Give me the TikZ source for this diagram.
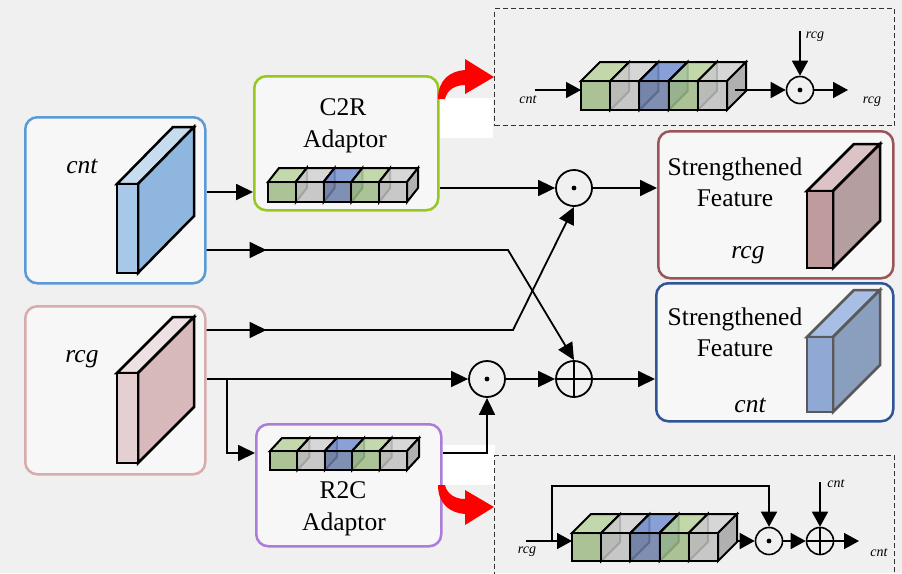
\documentclass[tikz,border=0pt]{standalone}
\usepackage{fontspec}
\setmainfont{Liberation Serif}
\usetikzlibrary{arrows.meta,decorations.markings}

\definecolor{bg}{RGB}{240,240,240}
\definecolor{boxfill}{RGB}{247,247,247}
\definecolor{cntborder}{RGB}{91,155,213}
\definecolor{rcgborder}{RGB}{214,172,172}
\definecolor{c2rborder}{RGB}{150,200,30}
\definecolor{r2cborder}{RGB}{172,124,218}
\definecolor{sfrborder}{RGB}{155,85,90}
\definecolor{sfcborder}{RGB}{47,85,151}
% cube colours
\definecolor{gF}{RGB}{160,186,136}
\definecolor{gT}{RGB}{186,212,160}
\definecolor{gR}{RGB}{136,160,110}
\definecolor{yF}{RGB}{192,192,192}
\definecolor{yT}{RGB}{210,210,210}
\definecolor{yR}{RGB}{165,165,165}
\definecolor{bF}{RGB}{108,126,166}
\definecolor{bT}{RGB}{118,146,210}
\definecolor{bR}{RGB}{72,116,176}
% slab colours
\definecolor{cntF}{RGB}{167,200,232}
\definecolor{cntS}{RGB}{143,182,222}
\definecolor{cntT}{RGB}{200,220,240}
\definecolor{rcgF}{RGB}{228,208,211}
\definecolor{rcgS}{RGB}{215,185,188}
\definecolor{rcgT}{RGB}{238,225,227}
\definecolor{sfrF}{RGB}{192,155,158}
\definecolor{sfrS}{RGB}{180,158,160}
\definecolor{sfrT}{RGB}{220,195,197}
\definecolor{sfcF}{RGB}{143,168,212}
\definecolor{sfcS}{RGB}{138,158,190}
\definecolor{sfcT}{RGB}{168,190,228}

% slab: x, y (front top-left), w, h, dx, dy, front, side, top
\newcommand{\slabdraw}[9]{%
  \filldraw[fill=#9] (#1,#2) -- ++(#3,0) -- ++(#5,-#6) -- ++(-#3,0) -- cycle;
  \filldraw[fill=#8] ({#1+#3},#2) -- ++(#5,-#6) -- ++(0,#4) -- ++(-#5,#6) -- cycle;
  \filldraw[fill=#7] (#1,#2) rectangle ++(#3,#4);
}
% cube row: x0, y0, w, h, dx, dy
\newcommand{\cuberow}[6]{%
  \foreach \cc [count=\i from 0] in {g,y,b,g,y}{
    \filldraw[fill=\cc T, fill opacity=0.85] ({#1+\i*#3},#2) -- ++(#3,0) -- ++(#5,-#6) -- ++(-#3,0) -- cycle;
    \filldraw[fill=\cc R, fill opacity=0.85] ({#1+(\i+1)*#3},#2) -- ++(#5,-#6) -- ++(0,#4) -- ++(-#5,#6) -- cycle;
    \filldraw[fill=\cc F, fill opacity=0.85] ({#1+\i*#3},#2) rectangle ++(#3,#4);
  }%
}

\begin{document}
\begin{tikzpicture}[x=1pt,y=-1pt,
  arr/.style={line width=1.8pt, -{Triangle[length=17pt,width=16pt]}},
  sarr/.style={line width=1.6pt, -{Triangle[length=15pt,width=16pt]}},
  midarrow/.style={postaction={decorate}, decoration={markings,
      mark=at position 60pt with {\arrow{Triangle[length=17pt,width=16pt]}}}},
  rbox/.style={draw, line width=2.5pt, rounded corners=12pt, fill=boxfill, anchor=north west, inner sep=0pt},
  op/.style={circle, draw, line width=1.8pt, minimum size=36pt, inner sep=0pt, fill=bg},
  sop/.style={circle, draw, line width=1.6pt, minimum size=27pt, inner sep=0pt, fill=bg},
  lbl/.style={font=\fontsize{25.5}{30}\selectfont, inner sep=0pt, anchor=base},
  ilbl/.style={font=\fontsize{25.5}{30}\selectfont\itshape, inner sep=0pt, anchor=base},
  slbl/.style={font=\fontsize{14}{16}\selectfont\itshape, inner sep=0pt, anchor=base},
  dbox/.style={draw=black!80, dash pattern=on 5pt off 3pt, line width=1.1pt, anchor=north west, inner sep=0pt},
  rowbox/.style={anchor=north west, inner sep=0pt},
  slabline/.style={line width=2.5pt, line join=miter},
  cubeline/.style={line width=2pt, line join=miter},
]
\useasboundingbox (0,0) rectangle (902,573);
\clip (0,0) rectangle (902,573);
\fill[bg] (0,0) rectangle (902,573);

% white patches
\fill[white] (418,98) rectangle (493,138);
\fill[white] (420,445) rectangle (495,485);

% dashed detail boxes
\node[dbox, minimum width=400pt, minimum height=117pt] (dtop) at (494,8) {};
\node[dbox, minimum width=400pt, minimum height=140pt] (dbot) at (494,455) {};

% main boxes
\node[rbox, draw=cntborder, minimum width=180pt, minimum height=166pt] (cntbox) at (24,116) {};
\node[rbox, draw=rcgborder, minimum width=180pt, minimum height=168pt] (rcgbox) at (24,305) {};
\node[rbox, draw=c2rborder, minimum width=184pt, minimum height=134pt] (c2r) at (253,75) {};
\node[rbox, draw=r2cborder, minimum width=185pt, minimum height=122pt] (r2c) at (255,423) {};
\node[rbox, draw=sfrborder, minimum width=235pt, minimum height=147pt] (sfr) at (657,130) {};
\node[rbox, draw=sfcborder, minimum width=237pt, minimum height=138pt] (sfc) at (655,282) {};

% slabs
\begin{scope}[slabline]
\slabdraw{117}{184}{21}{89}{56}{57}{cntF}{cntS}{cntT}
\slabdraw{117}{373}{21}{90}{56}{56}{rcgF}{rcgS}{rcgT}
\slabdraw{807}{191}{26}{77}{47}{47}{sfrF}{sfrS}{sfrT}
\begin{scope}[draw=black!65]
\slabdraw{807}{337}{26}{75}{47}{47}{sfcF}{sfcS}{sfcT}
\end{scope}
\end{scope}

% cube rows
\begin{scope}[cubeline]
\cuberow{268}{182}{27.8}{20}{11}{14}
\cuberow{270}{451}{27.4}{19}{12}{13}
\cuberow{581}{81}{29.2}{29}{19}{19}
\cuberow{572}{533}{29.2}{28}{19}{19}
\end{scope}
\node[rowbox, minimum width=139pt, minimum height=20pt] (rowa) at (268,182) {};
\node[rowbox, minimum width=137pt, minimum height=19pt] (rowb) at (270,451) {};
\node[rowbox, minimum width=146pt, minimum height=29pt] (row1) at (581,81) {};
\node[rowbox, minimum width=146pt, minimum height=28pt] (row2) at (572,533) {};

% texts
\node[ilbl] (tcnt) at (82,173) {cnt};
\node[ilbl] (trcg) at (82,362) {rcg};
\node[lbl] (tc2r) at (343,115) {C2R};
\node[lbl] (tc2ra) at (345,147) {Adaptor};
\node[lbl] (tr2c) at (343,498) {R2C};
\node[lbl] (tr2ca) at (344,530) {Adaptor};
\node[lbl] (ts1) at (735,175) {Strengthened};
\node[lbl] (tf1) at (735,206) {Feature};
\node[ilbl] (tsr) at (748,258) {rcg};
\node[lbl] (ts2) at (735,325) {Strengthened};
\node[lbl] (tf2) at (735,356) {Feature};
\node[ilbl] (tsc) at (750,412) {cnt};
\node[slbl] (l1) at (528,103) {cnt};
\node[slbl] (l2) at (815,38) {rcg};
\node[slbl] (l3) at (872,103) {rcg};
\node[slbl] (l4) at (527,553) {rcg};
\node[slbl] (l5) at (836,487) {cnt};
\node[slbl] (l6) at (879,556) {cnt};

% operators
\node[op] (m1) at (574,188) {};
\node[op] (m2) at (487,379) {};
\node[op] (pl) at (574,379) {};
\fill (m1) circle (2.4pt);
\fill (m2) circle (2.4pt);
\draw[line width=1.8pt] (pl.north) -- (pl.south) (pl.west) -- (pl.east);
\node[sop] (o1) at (800,90) {};
\node[sop] (o2) at (769,541) {};
\node[sop] (p2) at (820,541) {};
\fill (o1) circle (2.4pt);
\fill (o2) circle (2.4pt);
\draw[line width=1.6pt] (p2.north) -- (p2.south) (p2.west) -- (p2.east);

% coordinates
\coordinate (ya) at (0,192);
\coordinate (yb) at (0,250);
\coordinate (yc) at (0,330);
\coordinate (yd) at (0,453);
\coordinate (br) at (227,379);
\coordinate (k1) at (508,250);
\coordinate (k2) at (513,330);

% main connectors
\draw[arr] (cntbox.east |- ya) -- (c2r.west |- ya);
\draw[arr] (c2r.east |- m1) -- (m1.west);
\draw[arr] (m1.east) -- (sfr.west |- m1);
\draw[arr, midarrow] (cntbox.east |- yb) -- (k1) -- (pl.north);
\draw[arr, midarrow] (rcgbox.east |- yc) -- (k2) -- (m1.south);
\draw[arr] (rcgbox.east |- m2) -- (m2.west);
\draw[arr] (br) |- (r2c.west |- yd);
\draw[arr] (r2c.east |- yd) -| (m2.south);
\draw[arr] (m2.east) -- (pl.west);
\draw[arr] (pl.east) -- (sfc.west |- pl);

% top detail connectors
\coordinate (tin) at (535,90);
\coordinate (tout) at (735,90);
\coordinate (ttop) at (800,31);
\coordinate (tend) at (848,90);
\draw[sarr] (tin) -- (row1.west |- tin);
\draw[sarr] (tout) -- (o1.west);
\draw[sarr] (ttop) -- (o1.north);
\draw[sarr] (o1.east) -- (tend);

% bottom detail connectors
\coordinate (bin) at (526,541);
\coordinate (bsk) at (552,541);
\coordinate (bup) at (769,486);
\coordinate (bout) at (737,541);
\coordinate (btop) at (820,482);
\coordinate (bend) at (859,541);
\draw[sarr] (bin) -- (row2.west |- bin);
\draw[sarr] (bsk) |- (bup) -- (o2.north);
\draw[sarr] (bout) -- (o2.west);
\draw[sarr] (o2.east) -- (p2.west);
\draw[sarr] (btop) -- (p2.north);
\draw[sarr] (p2.east) -- (bend);

% red curved arrows
\fill[red] (438,99) .. controls (438,80) and (450,71) .. (465,70) -- (465,59) -- (494,77)
  -- (465,94) -- (465,85) .. controls (455,85) and (447,90) .. (445,99) -- cycle;
\fill[red] (438,485) .. controls (438,504) and (450,513) .. (465,514) -- (465,525) -- (494,507)
  -- (465,490) -- (465,499) .. controls (455,499) and (447,494) .. (445,485) -- cycle;
\end{tikzpicture}
\end{document}
